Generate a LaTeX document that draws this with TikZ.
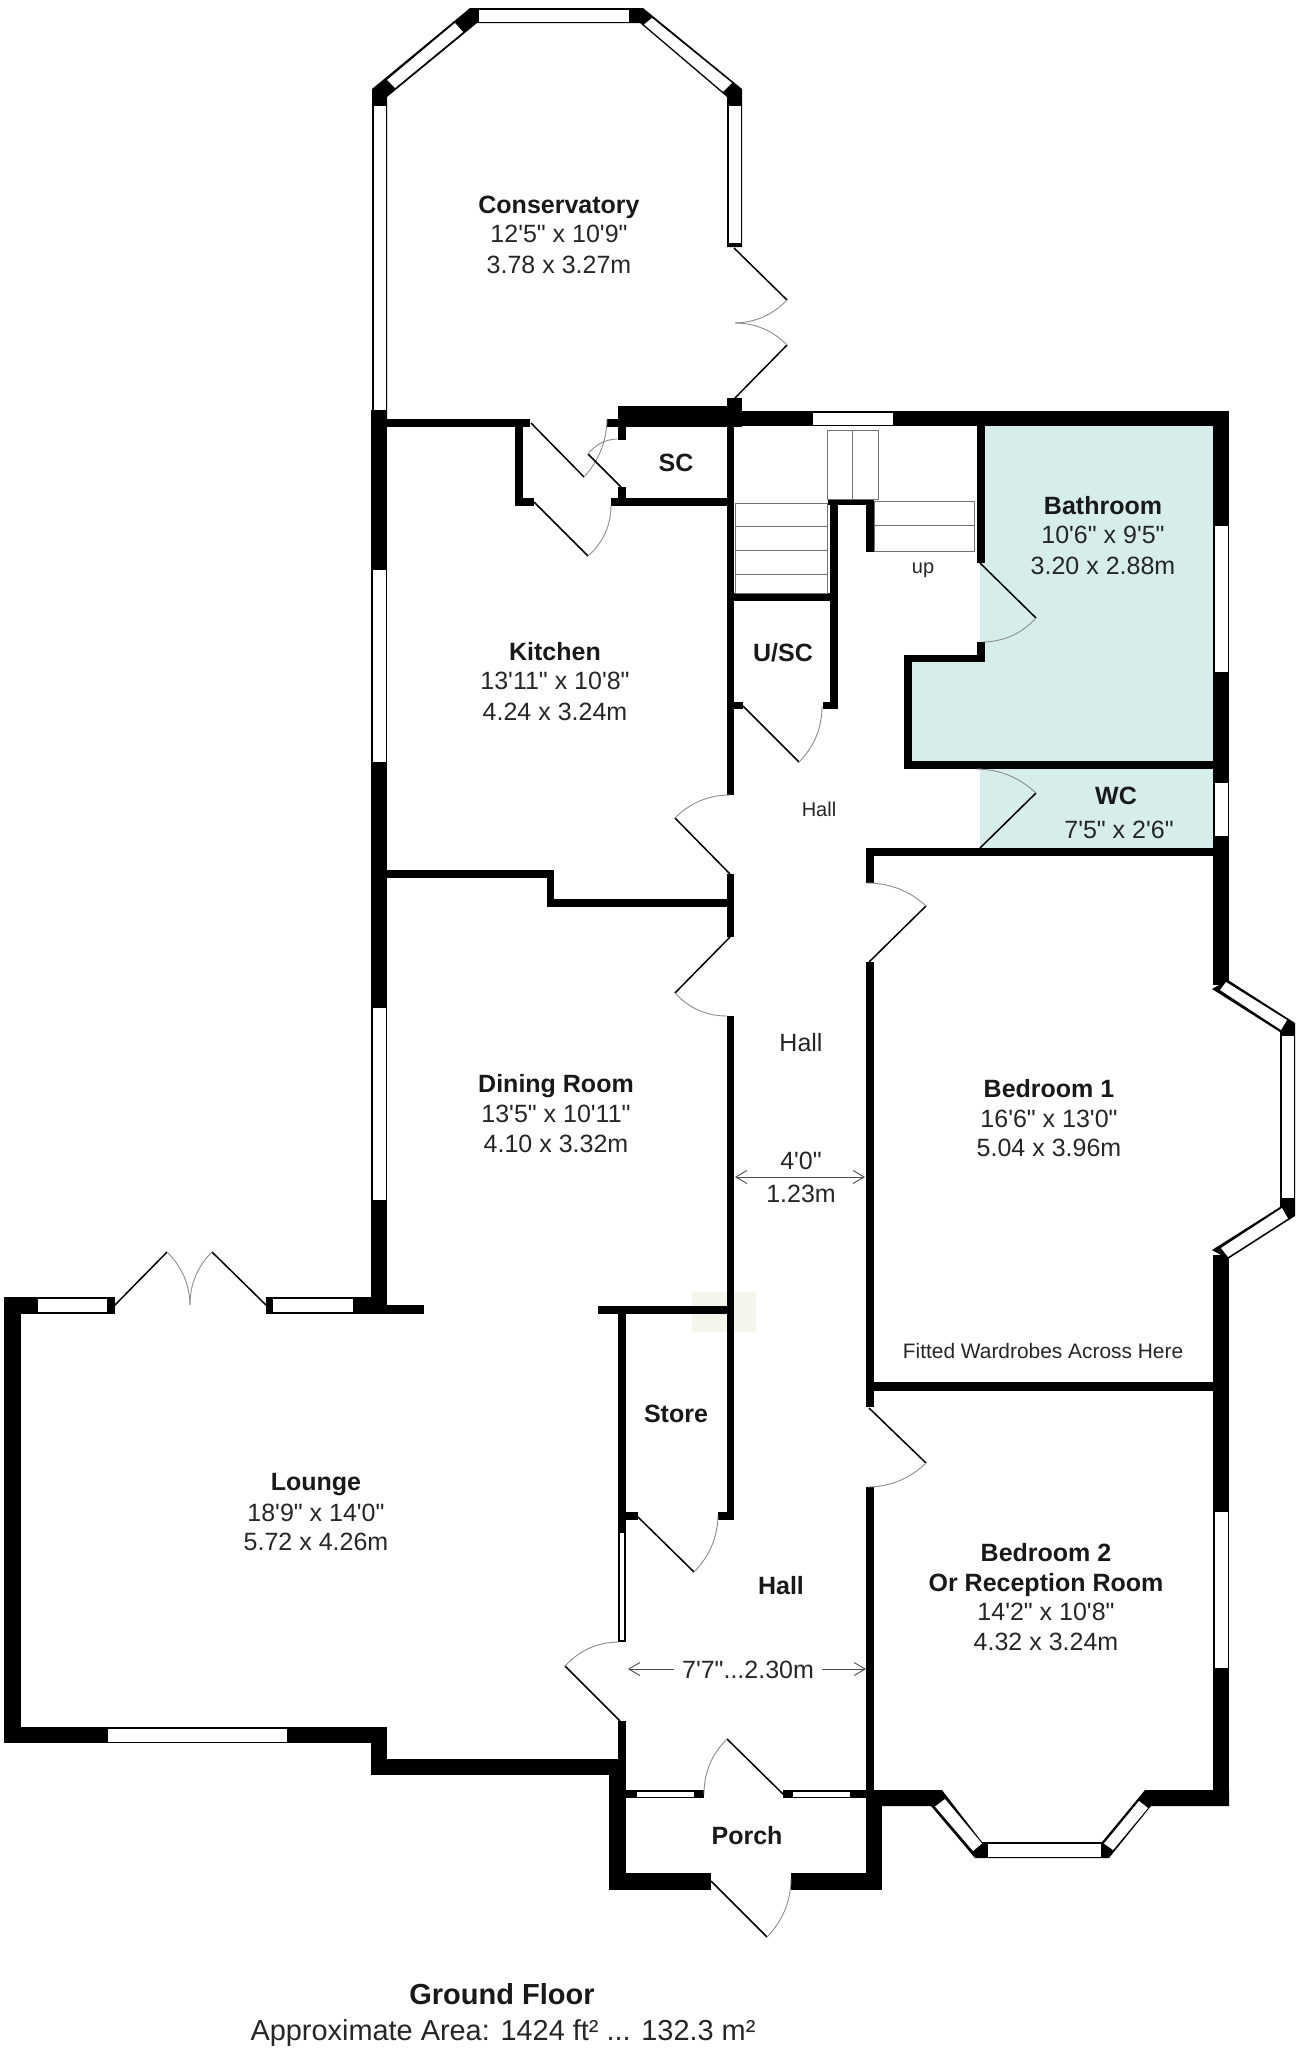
\documentclass[tikz,border=0pt]{standalone}
\usepackage{fontspec}
\usetikzlibrary{calc,arrows.meta}
\newfontfamily\hv{Liberation Sans}
\definecolor{wet}{HTML}{D6EDEC}
\definecolor{faintmark}{HTML}{F5F5EC}
\tikzset{
  wall/.style={fill=black,draw=none},
  glass/.style={fill=white,draw=none},
  leaf/.style={draw=black,line width=1.5pt},
  swing/.style={draw=black!45,line width=0.9pt},
  tread/.style={draw=black!55,line width=0.8pt},
  dimline/.style={draw=black!70,line width=0.9pt,{Straight Barb[length=11pt,width=13pt]}-{Straight Barb[length=11pt,width=13pt]}},
  halfdim/.style={draw=black!70,line width=0.9pt,-{Straight Barb[length=11pt,width=13pt]}},
  nm/.style={font=\hv\bfseries\fontsize{25}{25}\selectfont,inner sep=0pt,anchor=base,text=black!90},
  sz/.style={font=\hv\fontsize{25}{25}\selectfont,inner sep=0pt,anchor=base,text=black!85},
  sm/.style={font=\hv\fontsize{20.9}{20.9}\selectfont,inner sep=0pt,anchor=base,text=black!85},
  tiny/.style={font=\hv\fontsize{20}{20}\selectfont,inner sep=0pt,anchor=base,text=black!85},
}
\newcommand{\wallr}[4]{\fill[wall] (#1,#2) rectangle (#3,#4);}
\newcommand{\glassr}[4]{\fill[glass] (#1,#2) rectangle (#3,#4);}
\newcommand{\doorp}[3]{%
  \draw[leaf] (#1) -- (#2);
  \coordinate (dm) at ($(#2)!.5!(#3)$);
  \coordinate (dc) at ($(#1)!1.17!(dm)$);
  \draw[swing] (#2) .. controls ($(#2)!.667!(dc)$) and ($(#3)!.667!(dc)$) .. (#3);}
\begin{document}
\begin{tikzpicture}[x=1pt,y=-1pt]
\useasboundingbox (0,0) rectangle (1302,2048);
\fill[white] (0,0) rectangle (1302,2048);
% wet rooms and faint mark
\fill[wet] (985,426) -- (1213,426) -- (1213,761) -- (912,761) -- (912,655) -- (980,655) -- (980,563) -- (985,563) -- cycle;
\fill[wet] (980,769) rectangle (1213,848);
\fill[faintmark] (692,1292) rectangle (756,1332);
% conservatory ring
\fill[wall] (372,420) -- (372,89) -- (470,8) -- (643,8) -- (742,89) -- (742,247) -- (727,247) -- (727,97) -- (640,23) -- (477,23) -- (387,97) -- (387,420) -- cycle;
\glassr{373.5}{106}{385.5}{410}
\glassr{728.5}{106}{740.5}{243}
\glassr{479}{9.5}{629}{21.5}
\fill[glass] (387,80) -- (455,23) -- (463,32) -- (395,88) -- cycle;
\fill[glass] (652,18) -- (732,83) -- (723,91.7) -- (644,24.5) -- cycle;
% conservatory double door
\doorp{734,248}{787,300}{735,323}
\doorp{735,398}{787,345}{735,323}
% outer left wall
\wallr{371}{410}{387}{1314}
\glassr{373}{570}{386}{762}
\glassr{373}{1008}{386}{1200}
% top walls
\wallr{387}{419}{530}{427}
\wallr{515}{427}{523}{506}
\wallr{515}{498}{534}{506}
\wallr{607}{419}{618}{427}
\wallr{618}{406}{727}{427}
\wallr{727}{398}{742}{427}
\wallr{742}{411}{1229}{426}
\glassr{813}{412.5}{893}{424.5}
\wallr{618}{427}{626}{440}
\wallr{618}{487}{626}{506}
\wallr{611}{498}{727}{506}
% kitchen / dining wall
\wallr{387}{870}{554}{878}
\wallr{547}{870}{554}{907}
\wallr{547}{899}{727}{907}
% central spine
\wallr{726.5}{427}{734}{795}
\wallr{726.5}{874}{734}{937}
\wallr{726.5}{1016}{734}{1520}
% stair walls
\wallr{828}{499}{874}{505}
\wallr{866}{499}{874}{552}
\wallr{830}{499}{838}{709}
\wallr{734}{593}{838}{601}
\wallr{734}{702}{743}{709}
\wallr{823}{702}{838}{709}
% stairs
\draw[tread] (735,503) rectangle (827,593);
\draw[tread] (735,526) -- (827,526);
\draw[tread] (735,550) -- (827,550);
\draw[tread] (735,574.5) -- (827,574.5);
\draw[tread] (827,430) rectangle (878,499);
\draw[tread] (852,430) -- (852,499);
\draw[tread] (874,501) rectangle (974,551);
\draw[tread] (874,525.5) -- (974,525.5);
% bathroom and wc walls
\wallr{977}{426}{985}{563}
\wallr{977}{642}{985}{662}
\wallr{904}{654.5}{985}{662}
\wallr{904}{654.5}{912}{769}
\wallr{904}{760.5}{1213}{769}
\wallr{866}{848}{1213}{856}
\wallr{866}{848}{874}{883}
\wallr{866}{962}{874}{1407}
\wallr{866}{1487}{874}{1790}
\wallr{874}{1382}{1213}{1391}
% right wall
\wallr{1213}{411}{1229}{985}
\wallr{1213}{1255}{1229}{1806}
\glassr{1214.5}{526}{1227.5}{672}
\glassr{1214.5}{783}{1227.5}{836}
\glassr{1214.5}{1512}{1227.5}{1668}
% bedroom 1 bay
\fill[wall] (1212,989) -- (1280,1032) -- (1280,1207) -- (1212,1250) -- (1228,1259) -- (1295,1216) -- (1295,1023) -- (1228,980) -- cycle;
\fill[glass] (1226,982) -- (1287,1020) -- (1281,1030) -- (1220,990) -- cycle;
\fill[glass] (1282,1208) -- (1288,1218.5) -- (1228,1257) -- (1221,1248) -- cycle;
\glassr{1281.5}{1036}{1293.5}{1197.5}
% bedroom 2 bay
\fill[wall] (866,1790) -- (942,1790) -- (982,1842) -- (1102,1842) -- (1145,1790) -- (1229,1790) -- (1229,1806) -- (1151,1806) -- (1109,1858) -- (975,1858) -- (931,1806) -- (866,1806) -- cycle;
\fill[glass] (945,1799) -- (935,1806.5) -- (973,1851) -- (982,1843.5) -- cycle;
\fill[glass] (1139,1801) -- (1148,1808) -- (1113,1850) -- (1104,1843.5) -- cycle;
\glassr{988}{1843.5}{1101}{1856.5}
% porch
\wallr{609}{1759}{626}{1890}
\wallr{609}{1873}{711}{1890}
\wallr{791}{1873}{882}{1890}
\wallr{866}{1790}{882}{1890}
\wallr{626}{1790}{704}{1798}
\wallr{783}{1790}{866}{1798}
\glassr{637}{1791.5}{694}{1796.5}
\glassr{793}{1791.5}{850}{1796.5}
% lounge
\wallr{4}{1297}{20.5}{1743}
\wallr{4}{1727}{387}{1743}
\wallr{371}{1727}{387}{1775}
\wallr{371}{1759}{618}{1775}
\wallr{618}{1721}{626}{1790}
\wallr{4}{1297}{115}{1314}
\wallr{266}{1297}{387}{1314}
\wallr{387}{1305}{424}{1314}
\wallr{598}{1306}{730}{1314}
\glassr{38}{1299}{107}{1312}
\glassr{273}{1299}{353}{1312}
\glassr{108}{1729}{287}{1742}
% store
\wallr{618}{1314}{626}{1642}
\glassr{619.5}{1533}{624}{1640}
\wallr{626}{1512}{638}{1520}
\wallr{718}{1512}{734}{1520}
% doors
\doorp{531,423}{584,477}{607,419}
\doorp{621,487}{588,454}{617,439}
\doorp{534,502}{588,556}{611,506}
\doorp{980,563}{1036,618}{983,642}
\doorp{980,848}{1036,793}{977,769}
\doorp{743,706}{799,762}{822,706}
\doorp{730,874}{675,818}{730,795}
\doorp{730,937}{675,993}{727,1016}
\doorp{869,962}{926,906}{867,883}
\doorp{869,1408}{926,1463}{868,1487}
\doorp{638,1517}{694,1572}{718,1515}
\doorp{620,1721}{565,1666}{618,1642}
\doorp{783,1794}{727,1739}{704,1794}
\doorp{711,1881}{767,1937}{791,1879}
\doorp{115,1305}{167,1252}{190,1305}
\doorp{266,1305}{212,1252}{190,1305}
% dimension lines
\coordinate (d1a) at (735,1177);
\coordinate (d1b) at (865,1177);
\draw[dimline] (d1a) -- (d1b);
\coordinate (d2a) at (628,1669);
\coordinate (d2b) at (674,1669);
\coordinate (d2c) at (822,1669);
\coordinate (d2d) at (866,1669);
\draw[halfdim] (d2b) -- (d2a);
\draw[halfdim] (d2c) -- (d2d);
% labels
\node[nm] (con) at (559,213) {Conservatory};
\node[sz] (con1) at (559,242.5) {12'5" x 10'9"};
\node[sz] (con2) at (559,273.5) {3.78 x 3.27m};
\node[nm] (kit) at (555,660) {Kitchen};
\node[sz] (kit1) at (555,689) {13'11" x 10'8"};
\node[sz] (kit2) at (555,720) {4.24 x 3.24m};
\node[nm] (bath) at (1103,514) {Bathroom};
\node[sz] (bath1) at (1103,543) {10'6" x 9'5"};
\node[sz] (bath2) at (1103,574) {3.20 x 2.88m};
\node[nm] (sc) at (676,471) {SC};
\node[nm] (usc) at (783,661) {U/SC};
\node[tiny] (up) at (923,573) {up};
\node[tiny] (hallb) at (819,816.5) {Hall};
\node[nm] (wc) at (1116,804) {WC};
\node[sz] (wc1) at (1119,838) {7'5" x 2'6"};
\node[nm] (din) at (556,1092) {Dining Room};
\node[sz] (din1) at (556,1122) {13'5" x 10'11"};
\node[sz] (din2) at (556,1152) {4.10 x 3.32m};
\node[sz] (hallc) at (801,1051) {Hall};
\node[sz] (w1) at (801,1169) {4'0"};
\node[sz] (w2) at (801,1202) {1.23m};
\node[nm] (bed) at (1049,1097) {Bedroom 1};
\node[sz] (bed1) at (1049,1127) {16'6" x 13'0"};
\node[sz] (bed2) at (1049,1156) {5.04 x 3.96m};
\node[sm] (fit) at (1043,1358) {Fitted Wardrobes Across Here};
\node[nm] (lou) at (316,1490) {Lounge};
\node[sz] (lou1) at (316,1521) {18'9" x 14'0"};
\node[sz] (lou2) at (316,1550) {5.72 x 4.26m};
\node[nm] (sto) at (676,1422) {Store};
\node[nm] (halld) at (781,1594) {Hall};
\node[sz] (w3) at (748,1678) {7'7"...2.30m};
\node[nm] (bedb) at (1046,1561) {Bedroom 2};
\node[nm] (bedc) at (1046,1591) {Or Reception Room};
\node[sz] (bedb1) at (1046,1620.5) {14'2" x 10'8"};
\node[sz] (bedb2) at (1046,1650.5) {4.32 x 3.24m};
\node[nm] (por) at (747,1844) {Porch};
\node[nm,font=\hv\bfseries\fontsize{29}{29}\selectfont] (gf) at (502,2004.5) {Ground Floor};
\node[sz,font=\hv\fontsize{28.9}{28.9}\selectfont] (area) at (503,2040) {Approximate Area: 1424 ft² ... 132.3 m²};
\end{tikzpicture}
\end{document}
